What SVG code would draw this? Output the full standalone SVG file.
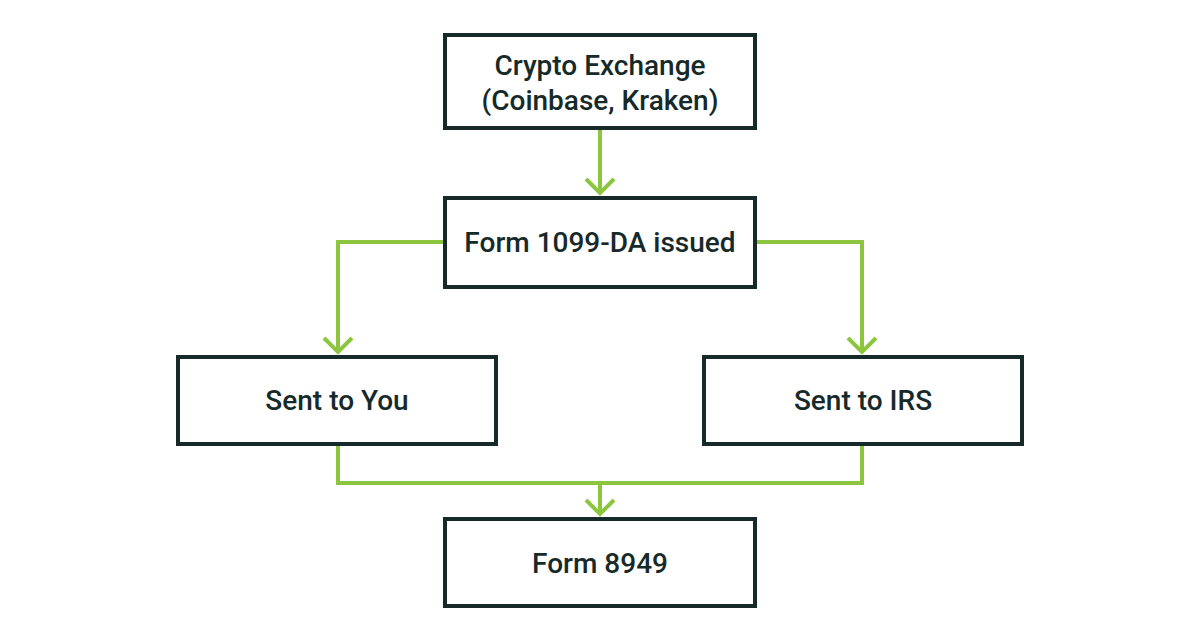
<svg xmlns="http://www.w3.org/2000/svg" width="1200" height="630" viewBox="0 0 1200 630">
<style>
.box{fill:#fff;stroke:#172a2a;stroke-width:4}
.t{font-family:Roboto,"Liberation Sans",sans-serif;font-size:28px;font-weight:500;fill:#172a2a;text-anchor:middle}
.c{fill:none;stroke:#8cc63f;stroke-width:4;stroke-linejoin:miter}
</style>
<rect width="1200" height="630" fill="#fff"/>
<g id="connectors">
<path class="c" d="M600 128V194M586 179L600 193L614 179"/>
<path class="c" d="M445 242H338V352M324 338L338 352L352 338"/>
<path class="c" d="M755 242H862V352M848 338L862 352L876 338"/>
<path class="c" d="M338 444V483H862V444M600 483V514M586 500L600 514L614 500"/>
</g>
<g id="n1"><rect class="box" x="445" y="35" width="310" height="93"/><text class="t" x="600" y="75">Crypto Exchange</text><text class="t" x="600" y="110">(Coinbase, Kraken)</text></g>
<g id="n2"><rect class="box" x="445" y="198" width="310" height="89"/><text class="t" x="600" y="252">Form 1099-DA issued</text></g>
<g id="n3"><rect class="box" x="178" y="357" width="318" height="87"/><text class="t" x="337" y="410">Sent to You</text></g>
<g id="n4"><rect class="box" x="704" y="357" width="318" height="87"/><text class="t" x="863" y="410">Sent to IRS</text></g>
<g id="n5"><rect class="box" x="445" y="519" width="310" height="87"/><text class="t" x="600" y="573">Form 8949</text></g>
</svg>
